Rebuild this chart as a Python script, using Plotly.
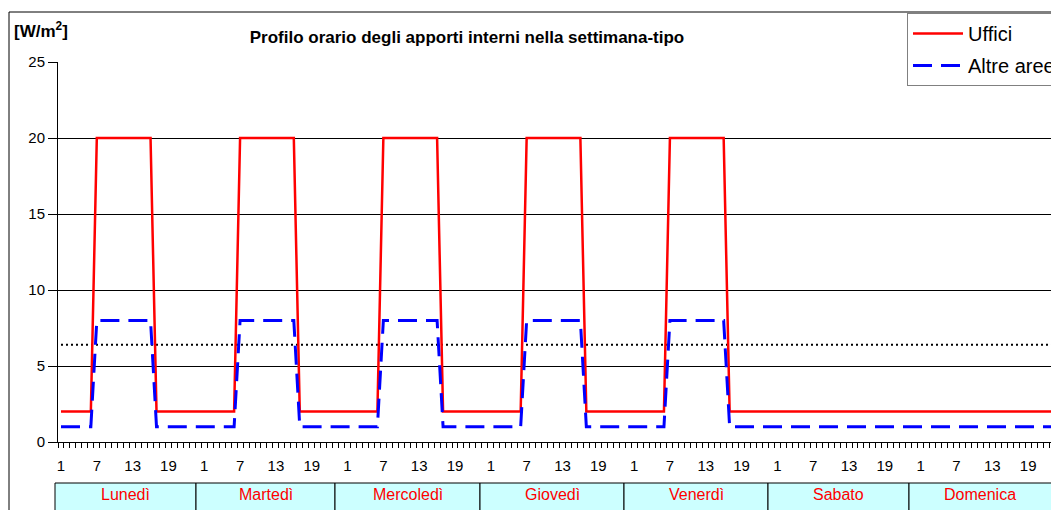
import plotly.graph_objects as go

# Profili giornalieri (valori orari, W/m2), ore 1..24
UFFICI_FERIALE = [2, 2, 2, 2, 2, 2, 20, 20, 20, 20, 20, 20, 20, 20, 20, 20, 2, 2, 2, 2, 2, 2, 2, 2]
UFFICI_FESTIVO = [2, 2, 2, 2, 2, 2, 2, 2, 2, 2, 2, 2, 2, 2, 2, 2, 2, 2, 2, 2, 2, 2, 2, 2]
ALTRE_FERIALE = [1, 1, 1, 1, 1, 1, 8, 8, 8, 8, 8, 8, 8, 8, 8, 8, 1, 1, 1, 1, 1, 1, 1, 1]
ALTRE_FESTIVO = [1, 1, 1, 1, 1, 1, 1, 1, 1, 1, 1, 1, 1, 1, 1, 1, 1, 1, 1, 1, 1, 1, 1, 1]

GIORNI = ["Lunedì", "Martedì", "Mercoledì", "Giovedì", "Venerdì", "Sabato", "Domenica"]
FERIALE = [True, True, True, True, True, False, False]
VALORE_RIFERIMENTO = 6.4
ORE_ETICHETTA = [1, 7, 13, 19]

# Serie settimanali (168 ore)
uffici, altre, tickvals, ticktext = [], [], [], []
for d, fer in enumerate(FERIALE):
    uffici += UFFICI_FERIALE if fer else UFFICI_FESTIVO
    altre += ALTRE_FERIALE if fer else ALTRE_FESTIVO
    for h in ORE_ETICHETTA:
        tickvals.append(d * 24 + h)
        ticktext.append(str(h))
ore = list(range(1, len(uffici) + 1))

# Layout in pixel
W, H = 1051, 510
ML, MR, MT, MB = 58, 0, 62, 68
PW, PH = W - ML - MR, H - MT - MB
PX_PER_HOUR = 5.97
DAY_EDGES_PX = [55, 196, 335, 480, 624, 768, 909, 1070]
FONT = "Arial, Liberation Sans, sans-serif"


def fx(px):
    return (px - ML) / PW


def fy(py):
    return (H - MB - py) / PH


fig = go.Figure()
fig.add_trace(go.Scatter(x=ore, y=[VALORE_RIFERIMENTO] * len(ore), mode="lines",
                         line=dict(color="black", width=2, dash="2px,3px"),
                         showlegend=False, hoverinfo="skip"))
fig.add_trace(go.Scatter(x=ore, y=uffici, mode="lines", name="Uffici", legendgroup="u",
                         line=dict(color="#FF0000", width=2.5)))
fig.add_trace(go.Scatter(x=ore, y=altre, mode="lines", name="Altre aree", legendgroup="a",
                         line=dict(color="#0000FF", width=3, dash="19px,9px")))

shapes = [
    # cornice dell'area grafico
    dict(type="rect", xref="paper", yref="paper", x0=fx(9), x1=fx(1100), y0=fy(600), y1=fy(12),
         line=dict(color="black", width=1), fillcolor="rgba(0,0,0,0)", layer="below"),
]
annotations = [
    dict(text="<b>[W/m<sup>2</sup>]</b>", xref="paper", yref="paper", x=fx(12), y=fy(30),
         xanchor="left", yanchor="middle", showarrow=False, font=dict(family=FONT, size=17, color="black")),
]
for i, g in enumerate(GIORNI):
    x0, x1 = DAY_EDGES_PX[i], DAY_EDGES_PX[i + 1]
    shapes.append(dict(type="rect", xref="paper", yref="paper", x0=fx(x0), x1=fx(x1),
                       y0=fy(530), y1=fy(483), fillcolor="#CCFFFF",
                       line=dict(color="black", width=1)))
    xc = (x0 + x1) / 2 if i < 6 else 980
    annotations.append(dict(text=g, xref="paper", yref="paper", x=fx(xc),
                            y=fy(495), xanchor="center", yanchor="middle", showarrow=False,
                            font=dict(family=FONT, size=16, color="#FF0000")))

fig.update_layout(
    width=W, height=H,
    margin=dict(l=ML, r=MR, t=MT, b=MB, pad=0, autoexpand=False),
    paper_bgcolor="white", plot_bgcolor="white",
    font=dict(family=FONT, size=15, color="black"),
    title=dict(text="<b>Profilo orario degli apporti interni nella settimana-tipo</b>",
               x=467 / W, xanchor="center", y=1 - 37 / H, yanchor="middle",
               font=dict(family=FONT, size=17, color="black")),
    xaxis=dict(range=[0.5, 0.5 + PW / PX_PER_HOUR], tickmode="array", tickvals=tickvals, ticktext=ticktext,
               showgrid=False, zeroline=False, showline=True, linecolor="black", linewidth=1,
               ticks="outside", ticklen=10, tickcolor="rgba(0,0,0,0)",
               tickfont=dict(family=FONT, size=15, color="black"),
               minor=dict(tickmode="linear", tick0=0.5, dtick=1, ticks="outside", ticklen=5,
                          tickcolor="black", tickwidth=1, showgrid=False)),
    yaxis=dict(range=[0, 25], tickmode="linear", tick0=0, dtick=5, showgrid=True, gridcolor="black",
               gridwidth=1, zeroline=False, showline=True, linecolor="black", linewidth=1,
               ticks="outside", ticklen=9, tickcolor="black",
               tickfont=dict(family=FONT, size=15, color="black")),
    legend=dict(x=fx(907), y=fy(13), xanchor="left", yanchor="top", bgcolor="white",
                bordercolor="#808080", borderwidth=1, font=dict(family=FONT, size=20, color="black"),
                itemwidth=50, tracegroupgap=3),
    shapes=shapes,
    annotations=annotations,
    showlegend=True,
)

fig.write_html("out.html")
